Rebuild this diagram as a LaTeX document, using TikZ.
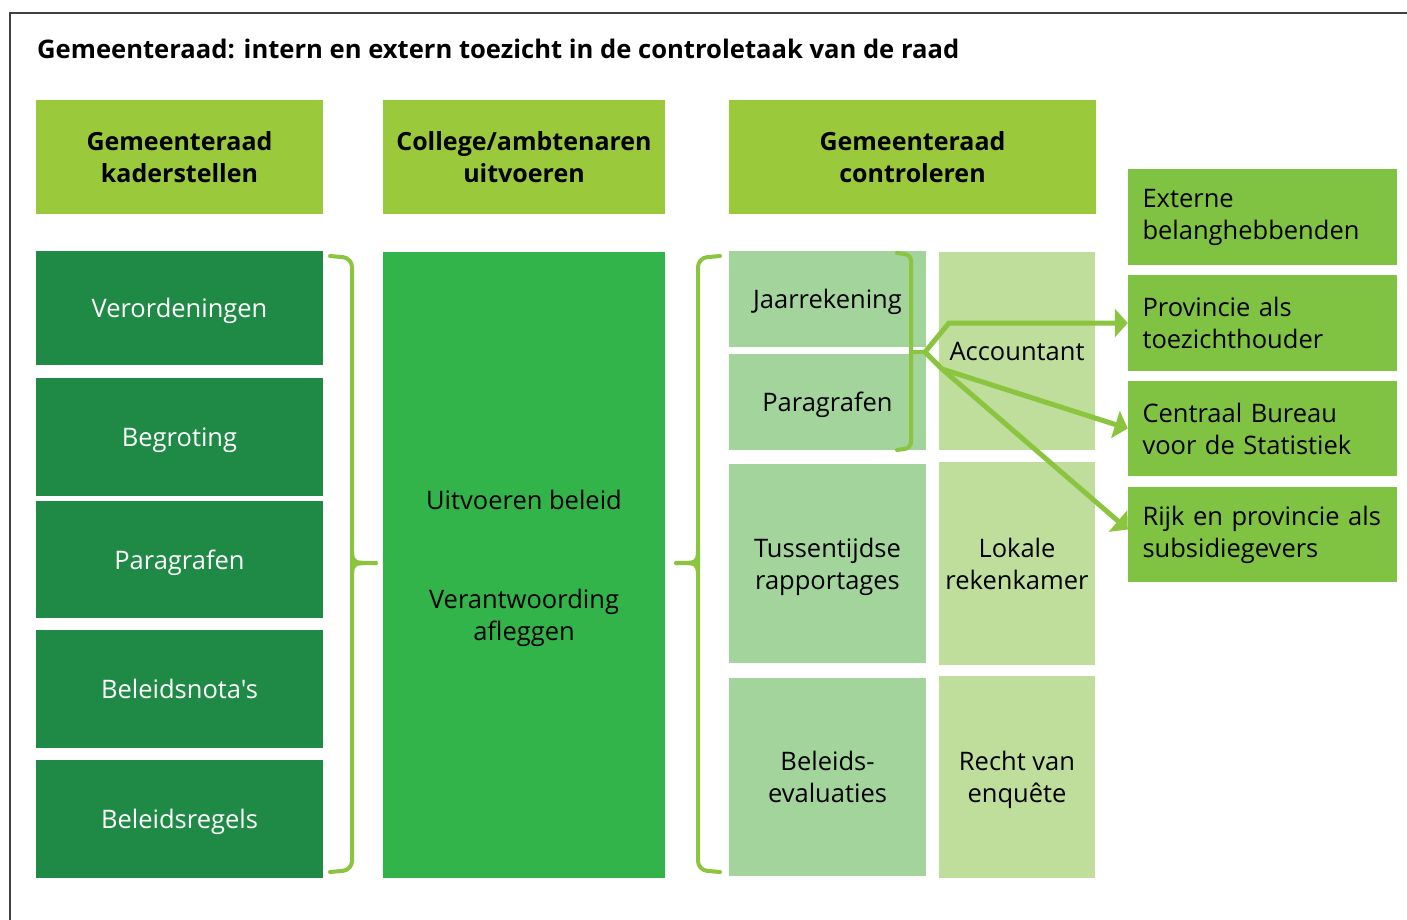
\documentclass[tikz,border=0pt]{standalone}
\usepackage{fontspec}
\setmainfont{Open Sans}[Ligatures=TeXOff]
\usetikzlibrary{arrows.meta}

\definecolor{kopgroen}{HTML}{9ACA3C}
\definecolor{donkergroen}{HTML}{1F8A45}
\definecolor{middengroen}{HTML}{33B44B}
\definecolor{lichtgroen}{HTML}{A2D49C}
\definecolor{bleekgroen}{HTML}{BFDD9B}
\definecolor{extgroen}{HTML}{80C242}
\definecolor{haakgroen}{HTML}{8BC53F}

\tikzset{
  vak/.style={rectangle,inner sep=0,align=center,font=\fontsize{25.5}{32}\selectfont},
  kop/.style={vak,text depth=0pt,fill=kopgroen,font=\fontsize{25}{32}\selectfont\bfseries},
  kader/.style={vak,text depth=0pt,fill=donkergroen,text=white,minimum width=287},
  uitv/.style={vak,text depth=0pt,fill=middengroen},
  ctrl/.style={vak,text depth=0pt,fill=lichtgroen,minimum width=197},
  ctrlb/.style={vak,text depth=0pt,fill=bleekgroen,minimum width=156},
  ext/.style={vak,fill=extgroen,align=left,text width=240,inner xsep=14.5,minimum width=269},
  haak/.style={haakgroen,line width=4,line cap=round},
  pijl/.style={haakgroen,line width=5,-{Triangle[length=13pt,width=28pt]}}
}

\begin{document}
\begin{tikzpicture}[x=1pt,y=-1pt]
		\useasboundingbox (0,0) rectangle (1407,920);
		\draw[line width=2,black!75] (10,920) -- (10,13) -- (1407,13);
		\node[anchor=base west,inner sep=0,font=\fontsize{25.6}{30}\selectfont\bfseries] (titel) at (37,59)
			{Gemeenteraad: intern en extern toezicht in de controletaak van de raad};

		% kopjes
		\node[kop,minimum width=287,minimum height=114] (k1) at (179.5,157) {Gemeenteraad\\kaderstellen};
		\node[kop,minimum width=282,minimum height=114] (k2) at (524,157) {College/ambtenaren\\uitvoeren};
		\node[kop,minimum width=367,minimum height=114] (k3) at (912.5,157) {Gemeenteraad\\controleren};

		% kaderstellen
		\node[kader,minimum height=114] (verord) at (179.5,308) {Verordeningen};
		\node[kader,minimum height=118] (begr) at (179.5,437) {Begroting};
		\node[kader,minimum height=117] (par) at (179.5,559.5) {Paragrafen};
		\node[kader,minimum height=118] (nota) at (179.5,689) {Beleidsnota's};
		\node[kader,minimum height=118] (regels) at (179.5,819) {Beleidsregels};

		% uitvoeren
		\node[uitv,minimum width=282,minimum height=626] (uitv) at (524,565)
			{Uitvoeren beleid\\[67pt]Verantwoording\\afleggen};

		% controleren
		\node[ctrl,minimum height=96] (jaar) at (827.5,299) {Jaarrekening};
		\node[ctrl,minimum height=96] (par2) at (827.5,402) {Paragrafen};
		\node[ctrl,minimum height=199] (tuss) at (827.5,563.5) {Tussentijdse\\rapportages};
		\node[ctrl,minimum height=198] (eval) at (827.5,777) {Beleids-\\evaluaties};
		\node[ctrlb,minimum height=198] (acc) at (1017,351) {Accountant};
		\node[ctrlb,minimum height=203] (rek) at (1017,563.5) {Lokale\\rekenkamer};
		\node[ctrlb,minimum height=202] (enq) at (1017,777) {Recht van\\enqu\^ete};

		% extern
		\node[ext,minimum height=96] (extern) at (1262.5,217) {Externe\\belanghebbenden};
		\node[ext,minimum height=96] (prov) at (1262.5,323) {Provincie als\\toezichthouder};
		\node[ext,minimum height=95] (cbs) at (1262.5,428.5) {Centraal Bureau\\voor de Statistiek};
		\node[ext,minimum height=95] (rijk) at (1262.5,534.5) {Rijk en provincie als\\subsidiegevers};

		% accolades
		\draw[haak,rounded corners=9] (330,256) -- (352,258) -- (352,870) -- (330,872);
		\draw[haak] (352,552) .. controls (353,563) .. (376,563);
		\draw[haak] (352,574) .. controls (353,563) .. (376,563);
		\draw[haak,rounded corners=9] (720,256) -- (698,258) -- (698,870) -- (720,872);
		\draw[haak] (698,552) .. controls (697,563) .. (676,563);
		\draw[haak] (698,574) .. controls (697,563) .. (676,563);
		\draw[haak,rounded corners=6] (897,253) -- (911,255) -- (911,448) -- (897,450);

		% pijlen
		\coordinate (splits) at (925,352);
		\coordinate (knik) at (942,369);
		\draw[haak] (911,352) -- (splits);
		\draw[pijl] (splits) -- (949,323) -- (prov.west);
		\draw[pijl] (splits) -- (knik) -- (cbs.west);
		\draw[pijl] (knik) -- ([yshift=5pt]rijk.west);
\end{tikzpicture}
\end{document}
